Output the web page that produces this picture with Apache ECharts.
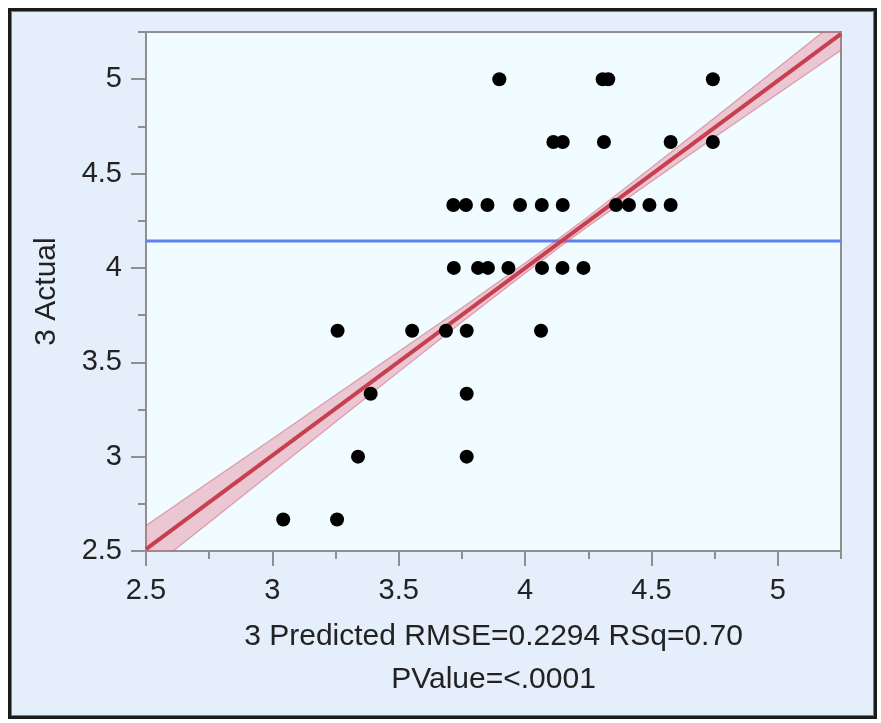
<!DOCTYPE html>
<html>
<head>
<meta charset="utf-8">
<script src="https://cdn.jsdelivr.net/npm/echarts@6/dist/echarts.min.js"></script>
<style>
  html, body { margin: 0; padding: 0; background: #ffffff; }
  #wrap { position: relative; width: 881px; height: 723px; }
  #frame {
    position: absolute; left: 8px; top: 8px; width: 863px; height: 705px;
    border: 3px solid #1b1b1b; background: #e5eefb;
    box-shadow: inset 0 0 0 1px #7a7a7a;
  }
  #chart { position: absolute; left: 0; top: 0; width: 881px; height: 723px; }
</style>
</head>
<body>
<div id="wrap">
  <div id="frame"></div>
  <div id="chart"></div>
</div>
<script>
// Actual vs. predicted values, one entry per observation
const predicted = [
  3.898, 4.307, 4.329, 4.743,
  4.112, 4.149, 4.312, 4.576, 4.743,
  3.716, 3.766, 3.851, 3.980, 4.066, 4.149, 4.360, 4.411, 4.492, 4.576,
  3.718, 3.814, 3.853, 3.934, 4.067, 4.148, 4.231,
  3.258, 3.553, 3.687, 3.769, 4.063,
  3.389, 3.769,
  3.339, 3.769,
  3.043, 3.256
];
const actual = [
  5, 5, 5, 5,
  4.667, 4.667, 4.667, 4.667, 4.667,
  4.333, 4.333, 4.333, 4.333, 4.333, 4.333, 4.333, 4.333, 4.333, 4.333,
  4, 4, 4, 4, 4, 4, 4,
  3.667, 3.667, 3.667, 3.667, 3.667,
  3.333, 3.333,
  3, 3,
  2.667, 2.667
];

// Fitted line end points and mean of the response
const fitX = [2.5, 5.25];
const fitY = [2.51, 5.24];
const meanActual = 4.143;

// Confidence band for the fit
const bandX     = [2.5,   2.75,  3.0,   3.25,  3.5,   3.75,  4.0,   4.14,  4.25,  4.5,   4.75,  5.0,   5.25];
const bandLower = [2.385, 2.651, 2.917, 3.184, 3.449, 3.713, 3.972, 4.113, 4.221, 4.458, 4.692, 4.923, 5.153];
const bandUpper = [2.635, 2.865, 3.095, 3.326, 3.557, 3.789, 4.026, 4.163, 4.273, 4.532, 4.796, 5.061, 5.327];

// Axis ticks
const majorTicks = [2.5, 3, 3.5, 4, 4.5, 5];
const minorTicks = [2.75, 3.25, 3.75, 4.25, 4.75, 5.25];
const axisMin = 2.5, axisMax = 5.25;

const xName = '3 Predicted RMSE=0.2294 RSq=0.70\nPValue=<.0001';
const yName = '3 Actual';

const FONT = '"Liberation Sans", Arial, sans-serif';
const AXIS_GRAY = '#8f8f8f';
const TEXT = '#222222';

function majorAxis(extra) {
  return Object.assign({
    type: 'value', min: axisMin, max: axisMax,
    axisLine: { show: true, lineStyle: { color: AXIS_GRAY, width: 2 } },
    axisTick: { show: true, length: 15, customValues: majorTicks, lineStyle: { color: AXIS_GRAY, width: 2 } },
    axisLabel: { customValues: majorTicks, color: TEXT, fontSize: 29, fontFamily: FONT },
    splitLine: { show: false }
  }, extra);
}
function minorAxis(extra) {
  return Object.assign({
    type: 'value', min: axisMin, max: axisMax,
    axisLine: { show: false },
    axisTick: { show: true, length: 8, customValues: minorTicks, lineStyle: { color: AXIS_GRAY, width: 2 } },
    axisLabel: { show: false },
    splitLine: { show: false }
  }, extra);
}

const chart = echarts.init(document.getElementById('chart'), null, { renderer: 'canvas' });

chart.setOption({
  backgroundColor: 'transparent',
  animation: false,
  grid: {
    left: 146, top: 32, width: 695, height: 519,
    show: true, backgroundColor: '#f0fcff',
    borderColor: AXIS_GRAY, borderWidth: 2
  },
  xAxis: [
    majorAxis({
      position: 'bottom',
      axisLabel: { customValues: majorTicks, color: TEXT, fontSize: 29, fontFamily: FONT, margin: 25 },
      name: xName, nameLocation: 'middle', nameGap: 64,
      nameTextStyle: { color: TEXT, fontSize: 30, fontFamily: FONT, lineHeight: 43 }
    }),
    minorAxis({ position: 'bottom' })
  ],
  yAxis: [
    majorAxis({
      position: 'left',
      axisLabel: { customValues: majorTicks, color: TEXT, fontSize: 29, fontFamily: FONT, margin: 24 },
      name: yName, nameLocation: 'middle', nameGap: 84, nameRotate: 90,
      nameTextStyle: { color: TEXT, fontSize: 30, fontFamily: FONT }
    }),
    minorAxis({ position: 'left' })
  ],
  series: [
    {
      name: 'mean', type: 'line', xAxisIndex: 0, yAxisIndex: 0,
      data: [[axisMin, meanActual], [axisMax, meanActual]],
      symbol: 'none', silent: true, z: 2,
      lineStyle: { color: '#5f82f0', width: 3 }
    },
    {
      name: 'band', type: 'custom', xAxisIndex: 0, yAxisIndex: 0,
      clip: true, silent: true, z: 3,
      data: [0],
      renderItem: function (params, api) {
        const upper = bandX.map((x, i) => api.coord([x, bandUpper[i]]));
        const lower = bandX.map((x, i) => api.coord([x, bandLower[i]]));
        const poly = upper.concat(lower.slice().reverse());
        return {
          type: 'group',
          children: [
            { type: 'polygon', shape: { points: poly },
              style: { fill: 'rgba(225, 105, 130, 0.36)', stroke: null } },
            { type: 'polyline', shape: { points: upper },
              style: { fill: null, stroke: 'rgba(205, 70, 95, 0.45)', lineWidth: 1.2 } },
            { type: 'polyline', shape: { points: lower },
              style: { fill: null, stroke: 'rgba(205, 70, 95, 0.45)', lineWidth: 1.2 } }
          ]
        };
      }
    },
    {
      name: 'fit', type: 'line', xAxisIndex: 0, yAxisIndex: 0,
      data: fitX.map((x, i) => [x, fitY[i]]),
      symbol: 'none', silent: true, z: 4,
      lineStyle: { color: '#c8404f', width: 4 }
    },
    {
      name: 'points', type: 'scatter', xAxisIndex: 0, yAxisIndex: 0,
      data: predicted.map((p, i) => [p, actual[i]]),
      symbol: 'circle', symbolSize: 14, z: 5,
      itemStyle: { color: '#000000', opacity: 1 }
    }
  ]
});
</script>
</body>
</html>
